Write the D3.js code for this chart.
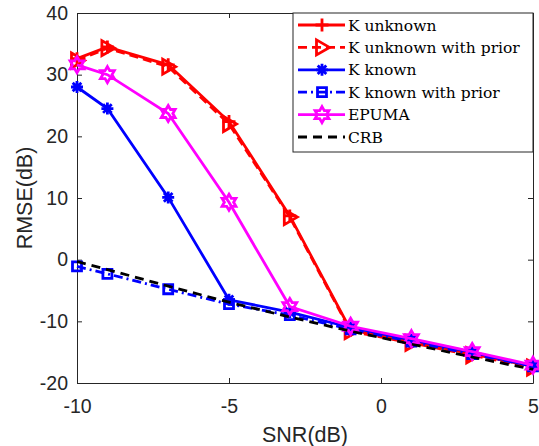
<!DOCTYPE html>
<html>
<head>
<meta charset="utf-8">
<script src="https://d3js.org/d3.v7.min.js"></script>
<style>
  body { margin: 0; background: #fff; }
</style>
</head>
<body>
<div id="chart"></div>
<script>
// data
var snr = [-10, -9, -7, -5, -3, -1, 1, 3, 5];
var kUnknown      = [32.6, 34.5, 31.6, 22.4, 7.1, -11.4, -13.3, -15.3, -17.3];
var kUnknownPrior = [32.3, 34.3, 31.3, 22.0, 6.9, -11.6, -13.5, -15.5, -17.5];
var kKnown        = [28.0, 24.5, 10.1, -6.5, -8.5, -11.0, -13.0, -15.0, -17.3];
var kKnownPrior   = [-1.1, -2.3, -4.8, -7.2, -9.0, -11.3, -13.3, -15.3, -17.3];
var epuma         = [31.6, 30.0, 23.7, 9.3, -7.6, -10.8, -12.8, -14.9, -17.1];
var crb           = [-0.3, -1.6, -4.3, -6.9, -9.3, -11.6, -13.7, -15.8, -17.8];

var xTicks = [-10, -5, 0, 5];
var yTicks = [-20, -10, 0, 10, 20, 30, 40];

var legendNames = ["K unknown", "K unknown with prior", "K known", "K known with prior", "EPUMA", "CRB"];

var W = 539, H = 446;
var margin = { top: 13, right: 6, bottom: 63, left: 77 };
var width = W - margin.left - margin.right,
    height = H - margin.top - margin.bottom;

var svg = d3.select("#chart").append("svg")
  .attr("width", W).attr("height", H);

var g = svg.append("g")
  .attr("transform", "translate(" + margin.left + "," + margin.top + ")");

var x = d3.scaleLinear().domain([-10, 5]).range([0, width]);
var y = d3.scaleLinear().domain([-20, 40]).range([height, 0]);

var axisColor = "#262626";
var tickFont = "'Liberation Sans', Arial, Helvetica, sans-serif";

// axes (ticks inward, MATLAB box style)
function styleAxis(sel) {
  sel.select(".domain").attr("stroke", axisColor).attr("stroke-width", 1);
  sel.selectAll(".tick line").attr("stroke", axisColor).attr("stroke-width", 1);
  sel.selectAll(".tick text").attr("fill", axisColor)
    .style("font-family", tickFont).style("font-size", "19.5px");
}

g.append("g").attr("transform", "translate(0," + height + ")")
  .call(d3.axisBottom(x).tickValues(xTicks).tickSize(-5).tickSizeOuter(0).tickPadding(16)
    .tickFormat(function (d) { return d; }))
  .call(styleAxis);
g.append("g")
  .call(d3.axisLeft(y).tickValues(yTicks).tickSize(-5).tickSizeOuter(0).tickPadding(9)
    .tickFormat(function (d) { return d; }))
  .call(styleAxis);
g.append("g")
  .call(d3.axisTop(x).tickValues(xTicks).tickSize(-5).tickSizeOuter(0).tickFormat(""))
  .call(styleAxis);
g.append("g").attr("transform", "translate(" + width + ",0)")
  .call(d3.axisRight(y).tickValues(yTicks).tickSize(-5).tickSizeOuter(0).tickFormat(""))
  .call(styleAxis);

// axis labels
svg.append("text")
  .attr("x", margin.left + width / 2).attr("y", 442)
  .attr("text-anchor", "middle").attr("fill", axisColor)
  .style("font-family", tickFont).style("font-size", "21.5px")
  .text("SNR(dB)");
svg.append("text")
  .attr("transform", "translate(32," + (margin.top + height / 2) + ") rotate(-90)")
  .attr("text-anchor", "middle").attr("fill", axisColor)
  .style("font-family", tickFont).style("font-size", "21.5px")
  .text("RMSE(dB)");

// marker shapes
function hexagram(R) {
  var pts = [], r = R / Math.sqrt(3);
  for (var i = 0; i < 12; i++) {
    var a = -Math.PI / 2 + i * Math.PI / 6;
    var rr = i % 2 === 0 ? R : r;
    pts.push([rr * Math.cos(a), rr * Math.sin(a)]);
  }
  return "M" + pts.map(function (p) { return p[0].toFixed(2) + "," + p[1].toFixed(2); }).join("L") + "Z";
}
var markers = {
  plus: "M-6.5,0H6.5M0,-6.5V6.5",
  triRight: "M-5.5,-7.5L7.5,0L-5.5,7.5Z",
  asterisk: "M-6,0H6M0,-6V6M-4.3,-4.3L4.3,4.3M-4.3,4.3L4.3,-4.3",
  square: "M-4.5,-4.5H4.5V4.5H-4.5Z",
  hexagram: hexagram(8),
  none: ""
};

var series = [
  { name: legendNames[0], values: kUnknown,      color: "#ff0000", dash: null,      marker: "plus" },
  { name: legendNames[1], values: kUnknownPrior, color: "#ff0000", dash: "9,5",     marker: "triRight" },
  { name: legendNames[2], values: kKnown,        color: "#0000ff", dash: null,      marker: "asterisk" },
  { name: legendNames[3], values: kKnownPrior,   color: "#0000ff", dash: "9,4,2,4", marker: "square" },
  { name: legendNames[4], values: epuma,         color: "#ff00ff", dash: null,      marker: "hexagram" },
  { name: legendNames[5], values: crb,           color: "#000000", dash: "9,6",     marker: "none" }
];

var line = d3.line()
  .x(function (d) { return x(d.snr); })
  .y(function (d) { return y(d.v); });

var plot = g.append("g");
series.forEach(function (s) {
  var pts = snr.map(function (v, i) { return { snr: v, v: s.values[i] }; });
  plot.append("path")
    .datum(pts)
    .attr("d", line)
    .attr("fill", "none")
    .attr("stroke", s.color)
    .attr("stroke-width", 2.8)
    .attr("stroke-dasharray", s.dash);
  if (s.marker !== "none") {
    plot.selectAll(null)
      .data(pts)
      .enter().append("path")
      .attr("transform", function (d) { return "translate(" + x(d.snr) + "," + y(d.v) + ")"; })
      .attr("d", markers[s.marker])
      .attr("fill", "none")
      .attr("stroke", s.color)
      .attr("stroke-width", 2.8);
  }
});

// legend
var lg = svg.append("g").attr("transform", "translate(293,13)");
lg.append("rect")
  .attr("width", 240).attr("height", 139)
  .attr("fill", "#fff").attr("stroke", axisColor).attr("stroke-width", 1);
series.forEach(function (s, i) {
  var yy = 12 + i * 22.4;
  lg.append("line")
    .attr("x1", 5).attr("x2", 52).attr("y1", yy).attr("y2", yy)
    .attr("stroke", s.color).attr("stroke-width", 2.8)
    .attr("stroke-dasharray", s.dash);
  if (s.marker !== "none") {
    lg.append("path")
      .attr("transform", "translate(29," + yy + ")")
      .attr("d", markers[s.marker])
      .attr("fill", "none").attr("stroke", s.color).attr("stroke-width", 2.8);
  }
  lg.append("text")
    .attr("x", 55).attr("y", yy + 5.5)
    .attr("fill", "#000")
    .style("font-family", "'DejaVu Serif', 'Liberation Serif', serif")
    .style("font-size", "15.5px")
    .text(s.name);
});
</script>
</body>
</html>
